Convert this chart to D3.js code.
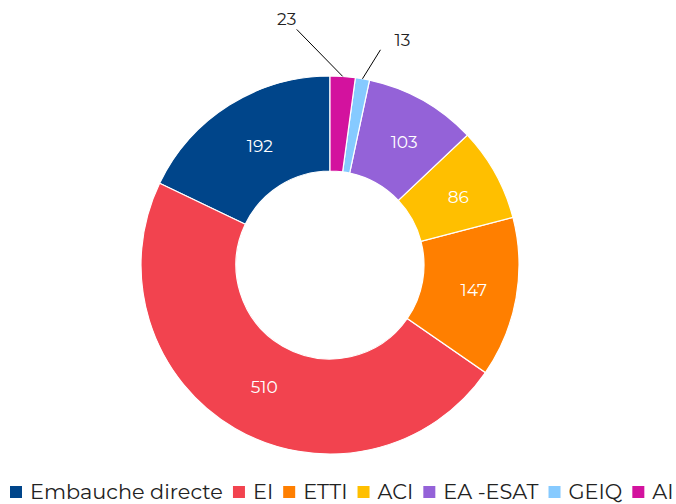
<!DOCTYPE html>
<html>
<head>
<meta charset="utf-8">
<script src="https://cdn.jsdelivr.net/npm/d3@7"></script>
<style>
  body { margin: 0; background: #fff; }
  svg { display: block; font-family: "Montserrat", "Noto Sans", sans-serif; }
</style>
</head>
<body>
<svg id="chart" width="676" height="504"></svg>
<script>
const categories = ["Embauche directe", "EI", "ETTI", "ACI", "EA -ESAT", "GEIQ", "AI"];
const values = [192, 510, 147, 86, 103, 13, 23];
const colors = ["#00458a", "#f2434f", "#ff7f00", "#ffbf00", "#9462d8", "#86caff", "#d3129e"];

const cx = 330, cy = 265;
const outerR = 189, innerR = 94;

const svg = d3.select("#chart");
const g = svg.append("g").attr("transform", `translate(${cx},${cy})`);

const data = categories.map((c, i) => ({ name: c, value: values[i], color: colors[i] }));

// counter-clockwise from 12 o'clock, in legend order
const pie = d3.pie()
    .value(d => d.value)
    .sort(null)
    .startAngle(0)
    .endAngle(-2 * Math.PI);

const arc = d3.arc().innerRadius(innerR).outerRadius(outerR);
const labelArc = d3.arc().innerRadius(141).outerRadius(141);
const edgeArc = d3.arc().innerRadius(outerR).outerRadius(outerR);

const arcs = pie(data);

g.selectAll("path.slice")
    .data(arcs)
    .enter()
    .append("path")
    .attr("class", "slice")
    .attr("d", arc)
    .attr("fill", d => d.data.color)
    .attr("stroke", "#fff")
    .attr("stroke-width", 1.2);

// labels inside big slices
g.selectAll("text.val")
    .data(arcs.filter(d => d.data.value > 50))
    .enter()
    .append("text")
    .attr("class", "val")
    .attr("transform", d => {
        const [x, y] = labelArc.centroid(d);
        return `translate(${x + 5},${y})`;
    })
    .attr("text-anchor", "middle")
    .attr("dy", "0.35em")
    .attr("fill", "#fff")
    .style("font-size", "17px")
    .text(d => d.data.value);

// small slices: leader lines + outside labels
const outside = { "AI": [-46, -47], "GEIQ": [18, -29] };
arcs.filter(d => outside[d.data.name]).forEach(d => {
    const [sx, sy] = edgeArc.centroid(d);
    const [ox, oy] = outside[d.data.name];
    const ex = sx + ox, ey = sy + oy;
    g.append("line")
        .attr("x1", sx).attr("y1", sy)
        .attr("x2", ex).attr("y2", ey)
        .attr("stroke", "#000")
        .attr("stroke-width", 1);
    g.append("text")
        .attr("x", ex + (ox < 0 ? -10 : 22))
        .attr("y", ey - 4)
        .attr("text-anchor", "middle")
        .attr("fill", "#222")
        .style("font-size", "17px")
        .text(d.data.value);
});

// legend
const legend = svg.append("g").attr("class", "legend");
const legendLeft = 10, legendRight = 674, legendY = 492;
let fontSize = 20;
const sq = 12, gapText = 8, gapItem = 10;

function layoutLegend(fs) {
    legend.selectAll("*").remove();
    let x = legendLeft;
    data.forEach(d => {
        legend.append("rect")
            .attr("x", x)
            .attr("y", legendY - sq / 2)
            .attr("width", sq)
            .attr("height", sq)
            .attr("fill", d.color);
        x += sq + gapText;
        const t = legend.append("text")
            .attr("x", x)
            .attr("y", legendY)
            .attr("dy", "0.35em")
            .attr("fill", "#222")
            .style("font-size", fs + "px")
            .text(d.name);
        x += t.node().getComputedTextLength() + gapItem;
    });
    return x - gapItem;
}

let end = layoutLegend(fontSize);
const textW = end - legendLeft - data.length * (sq + gapText) - (data.length - 1) * gapItem;
const targetW = legendRight - legendLeft - data.length * (sq + gapText) - (data.length - 1) * gapItem;
fontSize = fontSize * targetW / textW;
layoutLegend(fontSize);
</script>
</body>
</html>
